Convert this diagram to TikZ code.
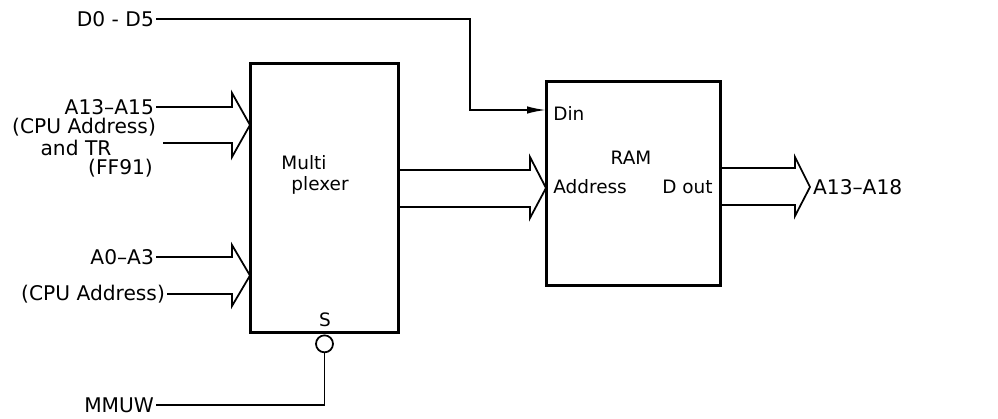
\documentclass[tikz,border=0pt]{standalone}
\usepackage{fontspec}
\setmainfont{DejaVu Sans}
\usetikzlibrary{arrows.meta}

\begin{document}
\begin{tikzpicture}[
     x = 0.02cm,
     y = -0.02cm,
     line join = miter
    ]
    \tikzstyle{box}=[draw, line width=1.7pt, inner sep=0pt]
    \tikzstyle{lbl}=[font=\fontsize{11.5}{13}\selectfont, inner sep=1pt]
    \tikzstyle{inlbl}=[font=\fontsize{10.5}{12}\selectfont, inner sep=0pt]
    \tikzstyle{sig}=[line width=1pt]
    \tikzstyle{bubble}=[draw, circle, line width=1pt, minimum size=0.34cm, inner sep=0pt]

    \useasboundingbox (0,0) rectangle (998,419);

    % blocks
    \node[box, minimum width=2.98cm, minimum height=5.4cm] (mux) at (324.5,198) {};
    \node[box, minimum width=3.5cm, minimum height=4.1cm] (ram) at (633.5,183.5) {};

    \node[inlbl] (multi) at (304,163) {Multi};
    \node[inlbl] (plexer) at (320,185) {plexer};
    \node[inlbl] (sel) at (325,320) {S};
    \node[inlbl] (ramname) at (631,158) {RAM};
    \node[inlbl, anchor=west] (din) at (553,113) {Din};
    \node[inlbl, anchor=west] (addr) at (553,187) {Address};
    \node[inlbl, anchor=east] (dout) at (713,187) {D out};

    % outside labels
    \node[lbl, anchor=east] (d05) at (156,19) {D0 - D5};
    \node[lbl, anchor=east] (a1315) at (156,107) {A13–A15};
    \node[lbl, anchor=east] (cpu1) at (158,127) {(CPU Address)};
    \node[lbl] (andtr) at (76,148) {and TR};
    \node[lbl, anchor=east] (ff91) at (155,168) {(FF91)};
    \node[lbl, anchor=east] (a03) at (156,257) {A0–A3};
    \node[lbl, anchor=east] (cpu2) at (167,294) {(CPU Address)};
    \node[lbl, anchor=east] (mmuw) at (156,405) {MMUW};
    \node[lbl, anchor=west] (a1318) at (811,187) {A13–A18};

    % inverted select input
    \node[bubble, anchor=north] (inv) at (mux.south) {};
    \draw[sig] (inv.south) |- (mmuw.east);

    % data in
    \coordinate (dinin) at (546,110);
    \draw[sig, -{Latex[length=0.38cm, width=0.15cm]}] (d05.east) -- (470,19) |- (dinin);

    % buses
    \draw[sig] (a1315.east) -- (232,107) -- (232,93) -- (250,125) -- (232,157)
       -- (232,143) -- (163,143);
    \draw[sig] (a03.east) -- (232,257) -- (232,245) -- (250,275.5) -- (232,306)
       -- (232,294) -- (cpu2.east);
    \draw[sig] (399,170) -- (530,170) -- (530,157) -- (546,188) -- (530,218)
       -- (530,207) -- (399,207);
    \draw[sig] (721,168) -- (795,168) -- (795,157) -- (810,187) -- (795,216)
       -- (795,205) -- (721,205);
   \end{tikzpicture}
\end{document}
